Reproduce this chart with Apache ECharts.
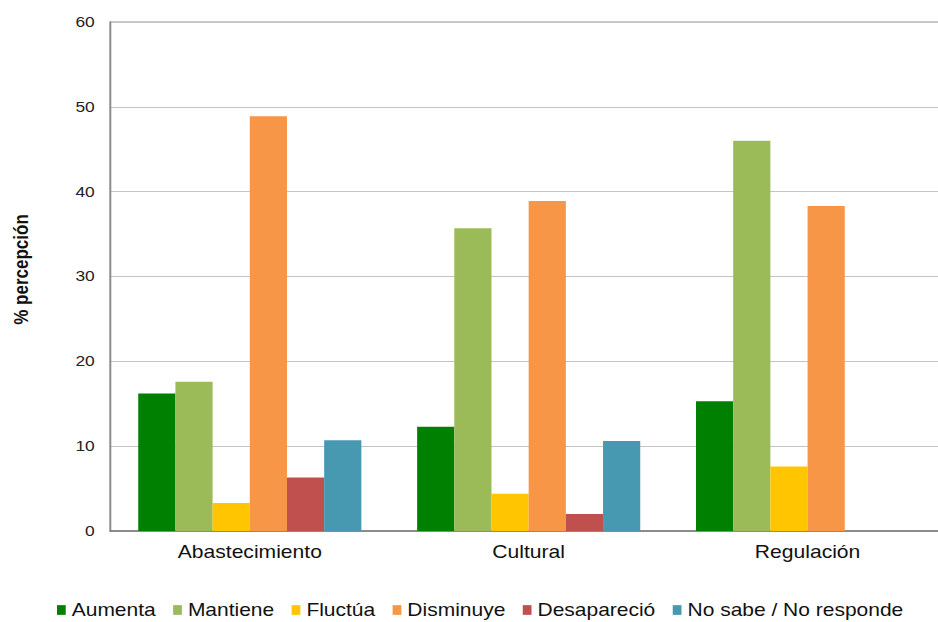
<!DOCTYPE html>
<html>
<head>
<meta charset="utf-8">
<script src="https://cdn.jsdelivr.net/npm/echarts@6/dist/echarts.min.js"></script>
<style>
html,body{margin:0;padding:0;background:#fff;overflow:hidden;}
#wrap{width:938px;height:622px;overflow:hidden;position:relative;}
#chart{width:782px;height:622px;transform:scaleX(1.1995);transform-origin:0 0;}
</style>
</head>
<body>
<div id="wrap"><div id="chart"></div></div>
<script>
var categories = ['Abastecimiento', 'Cultural', 'Regulación'];
var seriesNames = ['Aumenta', 'Mantiene', 'Fluctúa', 'Disminuye', 'Desapareció', 'No sabe / No responde'];
var aumenta = [16.2, 12.3, 15.3];
var mantiene = [17.6, 35.7, 46.0];
var fluctua = [3.3, 4.4, 7.6];
var disminuye = [48.9, 38.9, 38.3];
var desaparecio = [6.3, 2.0, 0];
var noSabe = [10.7, 10.6, 0];
var yTicks = [0, 10, 20, 30, 40, 50, 60];
var yTitle = '% percepción';

var colors = ['#008000', '#9BBB59', '#FFC600', '#F79646', '#C0504D', '#4699B1'];
var values = [aumenta, mantiene, fluctua, disminuye, desaparecio, noSabe];

var chart = echarts.init(document.getElementById('chart'), null, {renderer: 'svg'});
var FONT = '"Liberation Sans", Arial, sans-serif';
var series = seriesNames.map(function (n, i) {
  return {
    name: n,
    type: 'bar',
    data: values[i],
    barGap: '0%',
    barCategoryGap: '20%',
    itemStyle: {color: colors[i]},
    emphasis: {disabled: true}
  };
});

chart.setOption({
  animation: false,
  color: colors,
  textStyle: {fontFamily: FONT},
  grid: {
    left: 92, top: 22, width: 697.5, height: 509,
    containLabel: false,
    outerBoundsMode: 'none',
    show: true, borderColor: '#9a9a9a', borderWidth: 1.2, backgroundColor: 'transparent'
  },
  legend: {
    data: seriesNames,
    left: 42.5,
    top: 596,
    width: 735,
    icon: 'rect',
    itemWidth: 7.3,
    itemHeight: 9.7,
    itemGap: 14.5,
    textStyle: {fontSize: 17.5, color: '#111', fontFamily: FONT}
  },
  xAxis: {
    type: 'category',
    data: categories,
    axisTick: {show: false},
    axisLine: {lineStyle: {color: '#777', width: 1.5}},
    axisLabel: {fontSize: 17.6, color: '#111', margin: 12, fontFamily: FONT},
    splitLine: {show: false}
  },
  yAxis: {
    type: 'value',
    min: yTicks[0],
    max: yTicks[yTicks.length - 1],
    interval: 10,
    name: yTitle,
    nameLocation: 'middle',
    nameRotate: 90,
    nameGap: 66,
    nameTextStyle: {fontSize: 17, fontWeight: 'bold', color: '#111', fontFamily: FONT, padding: [0, 0, 0, 14]},
    axisLine: {show: true, lineStyle: {color: '#8a8a8a', width: 1.5}},
    axisTick: {show: false},
    axisLabel: {fontSize: 14.5, color: '#222', margin: 13, fontFamily: FONT},
    splitLine: {lineStyle: {color: '#c4c4c4', width: 1}}
  },
  series: series
});
</script>
</body>
</html>
